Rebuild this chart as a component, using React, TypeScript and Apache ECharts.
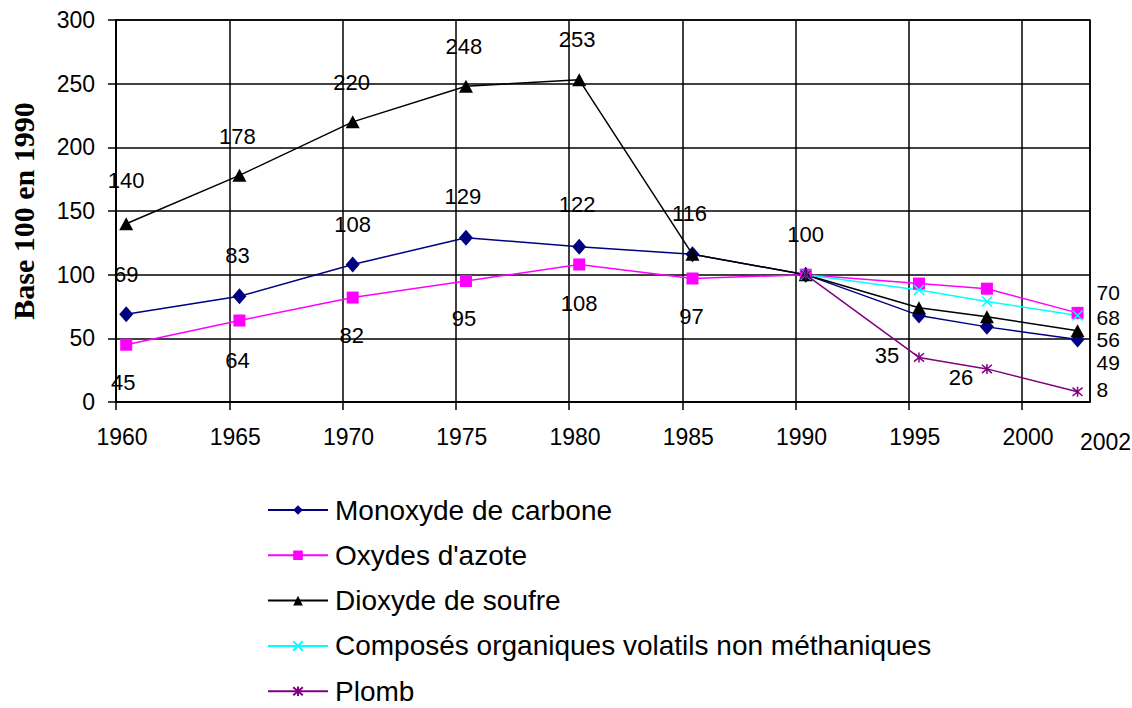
import React, { useEffect, useRef } from "react";
import * as echarts from "echarts";

// ---- data ----
const years = [1960, 1965, 1970, 1975, 1980, 1985, 1990, 1995, 1998, 2002];
const monoxydeCarbone = [69, 83, 108, 129, 122, 116, 100, 68, 59, 49];
const oxydesAzote = [45, 64, 82, 95, 108, 97, 100, 93, 89, 70];
const dioxydeSoufre = [140, 178, 220, 248, 253, 116, 100, 74, 67, 56];
const cov = [null, null, null, null, null, null, 100, 88, 79, 68];
const plomb = [null, null, null, null, null, null, 100, 35, 26, 8];
const seriesNames = [
  "Monoxyde de carbone",
  "Oxydes d'azote",
  "Dioxyde de soufre",
  "Composés organiques volatils non méthaniques",
  "Plomb",
];
const lastTickLabel = "2002";
const yTitle = "Base 100 en 1990";

// label placements (offset from the point) – which points carry a value label
type LP = [number, number, string?] | null;
const coLabels: LP[] = [[0, -40], [-2, -41], [0, -40], [-3, -41], [-2, -42], [-3, -41], [0, -40], null, null, [19, 23, "left"]];
const noxLabels: LP[] = [[-3, 38], [-2, 40], [-1, 38], [-2, 37], [0, 39], [-1, 38], null, null, null, [19, -20, "left"]];
const so2Labels: LP[] = [[0, -43], [-2, -39], [-1, -39], [-2, -40], [-2, -40], null, null, null, null, [19, 9, "left"]];
const covLabels: LP[] = [null, null, null, null, null, null, null, null, null, [19, 2, "left"]];
const pbLabels: LP[] = [null, null, null, null, null, null, null, [-32, -2], [-26, 9], [19, -2, "left"]];

const FONT = "'Liberation Sans', Arial, sans-serif";

function buildData(values: (number | null)[], labels: LP[]) {
  return values.map((v, i) => {
    const lp = labels[i];
    return {
      value: [years[i], v],
      label: lp
        ? {
            show: true,
            position: "inside",
            offset: [lp[0], lp[1]],
            align: lp[2] || "center",
            verticalAlign: "middle",
            formatter: String(v),
            color: "#000",
            fontSize: lp[2] ? 21 : 22,
            lineHeight: 20,
            fontFamily: FONT,
          }
        : { show: false },
    };
  });
}

export default function App() {
  const ref = useRef<HTMLDivElement>(null);
  useEffect(() => {
    if (!ref.current) return;
    const chart = echarts.init(ref.current, undefined, { renderer: "svg" });
    const mk = (
      name: string,
      values: (number | null)[],
      labels: LP[],
      color: string,
      symbol: string,
      symbolSize: number | number[],
      stroke: boolean
    ) => ({
      name,
      type: "line",
      xAxisIndex: 1,
      data: buildData(values, labels),
      symbol,
      symbolSize,
      showSymbol: true,
      showAllSymbol: true,
      connectNulls: false,
      lineStyle: { color, width: 1.5 },
      itemStyle: stroke
        ? { color, borderColor: color, borderWidth: 1.5 }
        : { color, borderWidth: 0 },
      emphasis: { disabled: true },
      z: 3,
    });
    chart.setOption({
      animation: false,
      backgroundColor: "#fff",
      textStyle: { fontFamily: FONT },
      grid: {
        left: 116,
        top: 20,
        width: 974,
        height: 382,
        show: true,
        borderColor: "#000",
        borderWidth: 1.5,
        containLabel: false,
      },
      xAxis: [
        {
          type: "value",
          min: 1960,
          max: 2003,
          interval: 5,
          axisLine: { show: true, lineStyle: { color: "#000", width: 1.5 } },
          axisTick: { show: true, length: 8, lineStyle: { color: "#000", width: 1.5 } },
          splitLine: { show: true, lineStyle: { color: "#000", width: 1.5 } },
          axisLabel: {
            color: "#000",
            fontSize: 23,
            fontFamily: FONT,
            margin: 23,
            padding: [0, 0, 0, 12],
            showMaxLabel: false,
            formatter: (v: number) => String(v),
          },
        },
        {
          type: "value",
          min: years[0] - 0.45,
          max: 2003 - 0.45,
          show: false,
          splitLine: { show: false },
        },
      ],
      yAxis: {
        type: "value",
        min: 0,
        max: 300,
        interval: 50,
        name: yTitle,
        nameLocation: "middle",
        nameRotate: 90,
        nameGap: 78,
        nameTextStyle: {
          fontFamily: "'Liberation Serif', 'Times New Roman', serif",
          fontWeight: "bold",
          fontSize: 30,
          color: "#000",
        },
        axisLine: { show: true, lineStyle: { color: "#000", width: 1.5 } },
        axisTick: { show: true, length: 8, lineStyle: { color: "#000", width: 1.5 } },
        splitLine: { show: true, lineStyle: { color: "#000", width: 1.5 } },
        axisLabel: { color: "#000", fontSize: 23, fontFamily: FONT, margin: 21 },
      },
      legend: {
        orient: "vertical",
        left: 267,
        top: 495,
        height: 260,
        padding: 0,
        itemWidth: 60,
        itemHeight: 12,
        itemGap: 15.3,
        textStyle: {
          color: "#000",
          fontSize: 28,
          fontFamily: FONT,
          lineHeight: 30,
          padding: [0, 0, 0, 2],
        },
        data: seriesNames,
      },
      graphic: [
        {
          type: "text",
          left: 1080,
          top: 430,
          style: { text: lastTickLabel, fill: "#000", fontSize: 23, fontFamily: FONT },
        },
      ],
      series: [
        mk(seriesNames[0], monoxydeCarbone, coLabels, "#000080", "diamond", [14, 16], false),
        mk(seriesNames[1], oxydesAzote, noxLabels, "#FF00FF", "rect", 12, false),
        mk(seriesNames[2], dioxydeSoufre, so2Labels, "#000000", "triangle", [14, 13], false),
        mk(seriesNames[3], cov, covLabels, "#00FFFF", "path://M0,0L10,10M10,0L0,10", 10, true),
        mk(seriesNames[4], plomb, pbLabels, "#800080", "path://M0,0L10,10M10,0L0,10M5,-1L5,11", 10, true),
      ],
    });
    return () => chart.dispose();
  }, []);
  return (
    <div
      ref={ref}
      style={{ position: "absolute", left: 0, top: 0, width: 1132, height: 708 }}
    />
  );
}
